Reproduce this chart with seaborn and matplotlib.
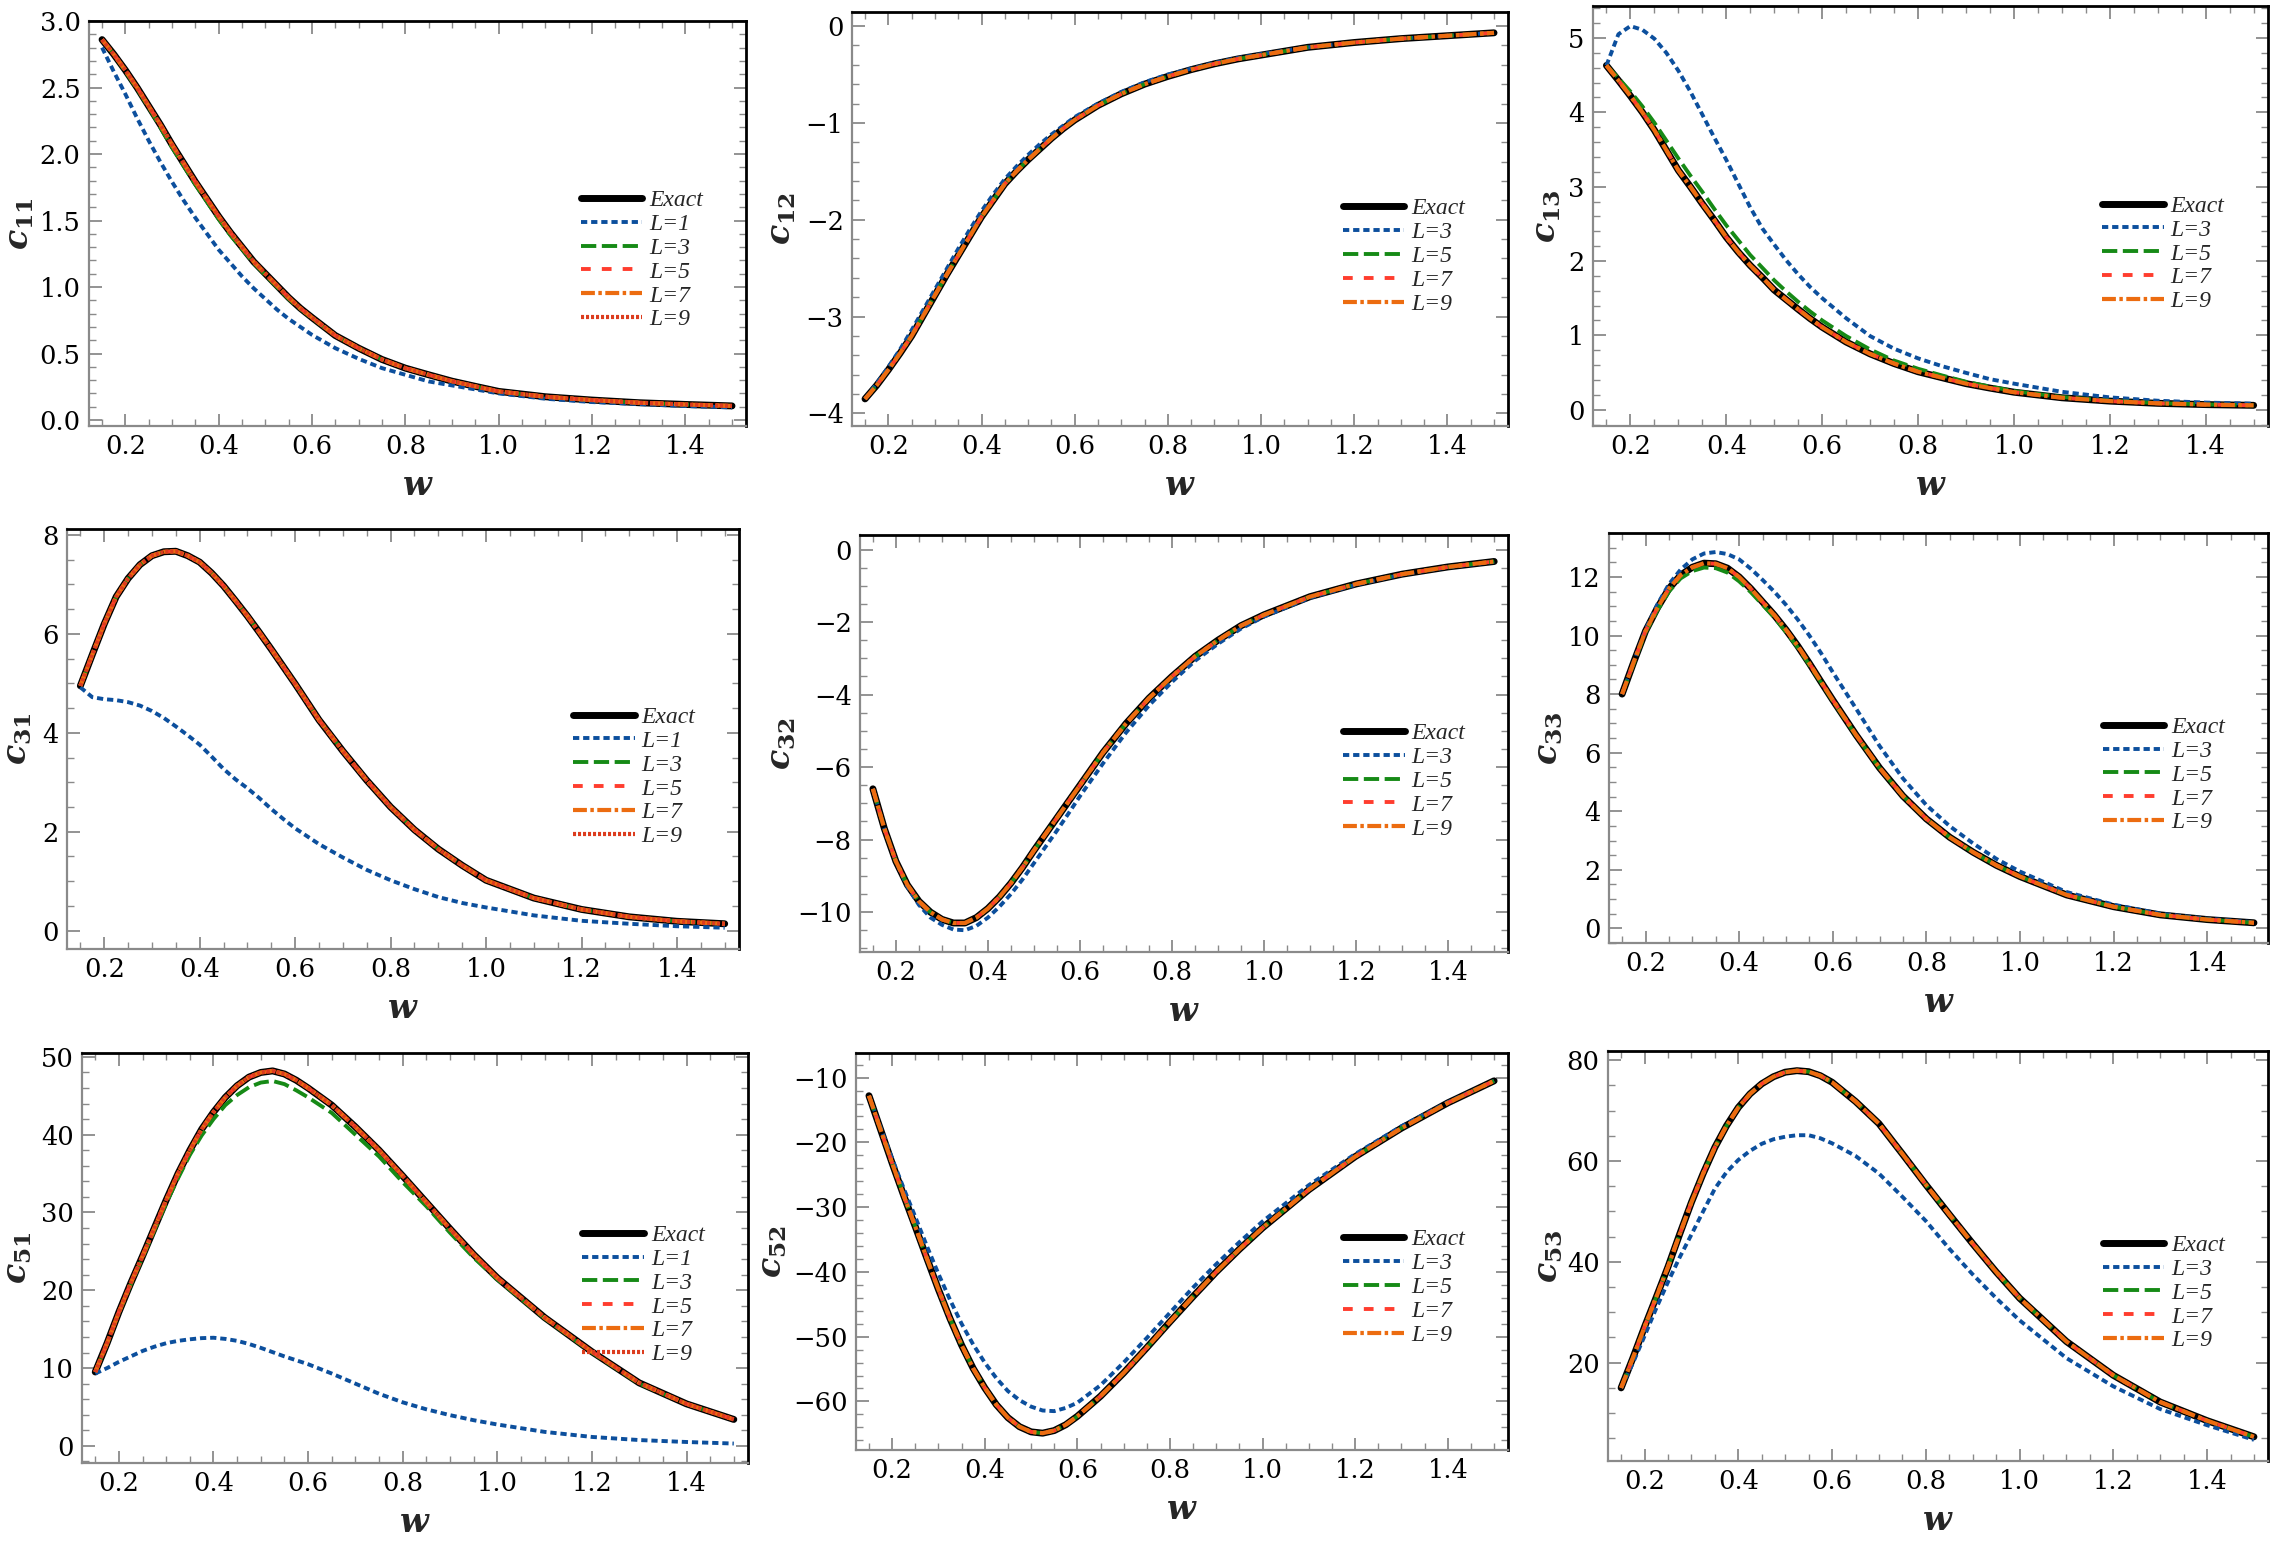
import matplotlib
matplotlib.use("Agg")
import matplotlib.pyplot as plt
import seaborn as sns
from matplotlib.ticker import MultipleLocator, FormatStrFormatter

# frequency grid shared by all panels
W = [0.15, 0.175, 0.2, 0.225, 0.25, 0.275, 0.3, 0.325, 0.35, 0.375, 0.4, 0.425, 0.45, 0.475,
     0.5, 0.525, 0.55, 0.575, 0.6, 0.65, 0.7, 0.75, 0.8, 0.85, 0.9, 0.95, 1.0,
     1.1, 1.2, 1.3, 1.4, 1.5]

# c11
c11_exact = [2.86, 2.75, 2.63, 2.50, 2.36, 2.22, 2.07, 1.93, 1.79, 1.66, 1.53, 1.41, 1.30, 1.19,
             1.10, 1.01, 0.92, 0.84, 0.77, 0.635, 0.54, 0.455, 0.39, 0.34, 0.292, 0.253, 0.215,
             0.175, 0.15, 0.13, 0.117, 0.106]
c11_L1 = [2.80, 2.62, 2.45, 2.27, 2.10, 1.94, 1.79, 1.65, 1.52, 1.40, 1.28, 1.18, 1.08, 0.99,
          0.91, 0.83, 0.76, 0.70, 0.64, 0.54, 0.46, 0.39, 0.34, 0.29, 0.26, 0.23, 0.20,
          0.16, 0.135, 0.12, 0.105, 0.095]
c11_L3 = [2.86, 2.75, 2.62, 2.49, 2.35, 2.20, 2.05, 1.91, 1.77, 1.64, 1.51, 1.39, 1.285, 1.18,
          1.09, 1.00, 0.91, 0.835, 0.765, 0.635, 0.54, 0.455, 0.39, 0.34, 0.292, 0.253, 0.215,
          0.175, 0.15, 0.13, 0.117, 0.106]

# c12
c12_exact = [-3.85, -3.71, -3.55, -3.38, -3.20, -2.99, -2.78, -2.57, -2.37, -2.17, -1.97, -1.80,
             -1.63, -1.50, -1.38, -1.27, -1.16, -1.06, -0.97, -0.82, -0.70, -0.60, -0.52, -0.45,
             -0.39, -0.34, -0.30, -0.22, -0.17, -0.13, -0.10, -0.07]
c12_L3 = [-3.85, -3.69, -3.52, -3.34, -3.14, -2.93, -2.72, -2.51, -2.30, -2.10, -1.91, -1.74,
          -1.58, -1.45, -1.33, -1.22, -1.12, -1.03, -0.94, -0.80, -0.68, -0.58, -0.50, -0.44,
          -0.38, -0.33, -0.29, -0.22, -0.17, -0.13, -0.10, -0.07]

# c13
c13_exact = [4.63, 4.43, 4.22, 4.00, 3.76, 3.49, 3.22, 3.00, 2.77, 2.55, 2.32, 2.12, 1.94, 1.78,
             1.61, 1.48, 1.35, 1.225, 1.11, 0.91, 0.75, 0.62, 0.51, 0.43, 0.35, 0.29, 0.235,
             0.16, 0.115, 0.085, 0.068, 0.058]
c13_L3 = [4.63, 5.05, 5.16, 5.11, 4.99, 4.80, 4.56, 4.28, 3.97, 3.66, 3.36, 3.04, 2.72, 2.44,
          2.22, 2.01, 1.82, 1.65, 1.50, 1.23, 0.99, 0.82, 0.69, 0.585, 0.495, 0.41, 0.35,
          0.24, 0.165, 0.12, 0.095, 0.08]
c13_L5 = [4.63, 4.46, 4.28, 4.08, 3.86, 3.62, 3.38, 3.15, 2.93, 2.70, 2.48, 2.28, 2.08, 1.91,
          1.74, 1.59, 1.45, 1.32, 1.20, 0.99, 0.81, 0.66, 0.55, 0.46, 0.375, 0.31, 0.25,
          0.17, 0.12, 0.088, 0.07, 0.058]

# c31
c31_exact = [4.95, 5.58, 6.20, 6.75, 7.12, 7.40, 7.58, 7.66, 7.67, 7.58, 7.45, 7.23, 6.97, 6.67,
             6.36, 6.03, 5.69, 5.34, 4.99, 4.26, 3.63, 3.04, 2.50, 2.04, 1.65, 1.32, 1.02,
             0.66, 0.43, 0.28, 0.19, 0.14]
c31_L1 = [4.92, 4.72, 4.68, 4.66, 4.62, 4.55, 4.44, 4.30, 4.13, 3.95, 3.76, 3.52, 3.27, 3.06,
          2.88, 2.68, 2.46, 2.26, 2.07, 1.75, 1.48, 1.23, 1.02, 0.84, 0.68, 0.56, 0.47,
          0.31, 0.20, 0.14, 0.09, 0.06]

# c32
c32_exact = [-6.6, -7.7, -8.6, -9.25, -9.7, -10.0, -10.2, -10.3, -10.3, -10.15, -9.9, -9.58,
             -9.2, -8.77, -8.3, -7.85, -7.4, -6.95, -6.5, -5.6, -4.8, -4.1, -3.5, -2.95,
             -2.5, -2.1, -1.8, -1.3, -0.95, -0.68, -0.48, -0.33]
c32_L3 = [-6.6, -7.7, -8.6, -9.3, -9.8, -10.15, -10.35, -10.48, -10.5, -10.38, -10.15, -9.85,
          -9.5, -9.1, -8.65, -8.2, -7.75, -7.28, -6.8, -5.9, -5.05, -4.3, -3.65, -3.07,
          -2.6, -2.18, -1.85, -1.33, -0.97, -0.69, -0.49, -0.34]

# c33
c33_exact = [8.0, 9.1, 10.15, 10.93, 11.6, 12.06, 12.33, 12.47, 12.45, 12.3, 12.0, 11.6, 11.15,
             10.7, 10.2, 9.65, 9.05, 8.42, 7.8, 6.6, 5.48, 4.52, 3.74, 3.11, 2.6, 2.15, 1.77,
             1.14, 0.74, 0.46, 0.30, 0.19]
c33_L3 = [8.0, 9.12, 10.2, 11.05, 11.75, 12.25, 12.6, 12.8, 12.85, 12.78, 12.6, 12.28, 11.9,
          11.5, 11.05, 10.55, 10.0, 9.4, 8.75, 7.5, 6.23, 5.12, 4.21, 3.49, 2.9, 2.37, 1.94,
          1.24, 0.81, 0.50, 0.33, 0.21]
c33_L5 = [8.0, 9.05, 10.1, 10.85, 11.5, 11.95, 12.2, 12.32, 12.3, 12.15, 11.85, 11.48, 11.05,
          10.62, 10.12, 9.6, 9.0, 8.4, 7.77, 6.58, 5.47, 4.52, 3.74, 3.11, 2.6, 2.15, 1.77,
          1.14, 0.74, 0.46, 0.30, 0.19]

# c51
c51_exact = [9.5, 13.2, 17.2, 20.9, 24.4, 28.0, 31.6, 35.0, 38.0, 40.7, 42.9, 44.8, 46.3, 47.4,
             48.0, 48.2, 47.8, 47.0, 46.0, 43.8, 41.0, 38.0, 34.7, 31.3, 27.9, 24.6, 21.6,
             16.5, 12.1, 8.1, 5.4, 3.4]
c51_L1 = [9.3, 10.0, 10.8, 11.5, 12.2, 12.75, 13.2, 13.5, 13.7, 13.85, 13.9, 13.75, 13.5, 13.1,
          12.6, 12.05, 11.5, 11.0, 10.5, 9.3, 8.0, 6.7, 5.6, 4.7, 3.95, 3.3, 2.75,
          1.8, 1.15, 0.75, 0.5, 0.3]
c51_L3 = [9.5, 13.1, 17.1, 20.7, 24.2, 27.7, 31.2, 34.4, 37.4, 39.9, 42.0, 43.8, 45.1, 46.1,
          46.7, 46.9, 46.5, 45.7, 44.8, 42.8, 40.0, 37.2, 33.9, 30.8, 27.4, 24.2, 21.4,
          16.4, 12.0, 8.0, 5.4, 3.4]

# c52
c52_exact = [-12.8, -18.0, -23.2, -28.2, -33.0, -37.9, -42.7, -47.2, -51.3, -54.9, -57.9, -60.5,
             -62.5, -63.9, -64.7, -64.9, -64.5, -63.6, -62.3, -59.2, -55.6, -51.7, -47.7, -43.8,
             -40.0, -36.5, -33.2, -27.3, -22.2, -17.8, -13.9, -10.5]
c52_L3 = [-12.8, -17.7, -22.5, -27.1, -31.5, -36.0, -40.3, -44.3, -48.0, -51.2, -54.0, -56.4,
          -58.4, -59.8, -60.8, -61.4, -61.5, -61.0, -60.2, -57.5, -54.0, -50.2, -46.3, -42.4,
          -38.8, -35.4, -32.2, -26.6, -21.8, -17.5, -13.8, -10.5]

# c53
c53_exact = [15.0, 20.9, 27.1, 33.0, 39.0, 45.5, 51.8, 57.5, 62.7, 67.0, 70.6, 73.3, 75.3, 76.7,
             77.6, 77.9, 77.7, 76.9, 75.6, 71.8, 67.4, 61.4, 55.3, 49.4, 43.6, 38.0, 32.8,
             24.2, 17.5, 12.2, 8.5, 5.3]
c53_L3 = [15.0, 19.9, 25.3, 30.8, 36.0, 40.9, 45.4, 50.0, 54.5, 57.8, 60.2, 62.0, 63.4, 64.3,
          64.8, 65.1, 65.1, 64.5, 63.5, 61.0, 57.5, 52.9, 48.1, 42.6, 37.5, 32.8, 28.4,
          20.9, 15.3, 10.8, 7.6, 4.7]

labels_odd = ["Exact", "L=1", "L=3", "L=5", "L=7", "L=9"]
labels_even = ["Exact", "L=3", "L=5", "L=7", "L=9"]

sns.set_theme(style="ticks")
plt.rcParams['font.family'] = ['DejaVu Serif']
plt.rcParams['mathtext.fontset'] = 'custom'
plt.rcParams['mathtext.it'] = 'DejaVu Serif:italic:bold'
plt.rcParams['mathtext.rm'] = 'DejaVu Serif:bold'
plt.rcParams['lines.scale_dashes'] = False

exact_style = dict(color='black', linewidth=5.0, linestyle='-')
approx_styles = [
    dict(color='#0c4f9d', linewidth=2.8, linestyle=(0, (4.5, 2.8))),
    dict(color='#168a16', linewidth=2.8, linestyle=(0, (11, 4))),
    dict(color='#ff3d2e', linewidth=2.8, linestyle=(0, (7, 8))),
    dict(color='#ec6c10', linewidth=3.0, linestyle=(0, (10, 2.5, 2.5, 2.5))),
    dict(color='#dc3c1e', linewidth=3.0, linestyle=(0, (2.2, 1.4))),
]

# (name, series, labels, ylim, major, minor, fmt, rect px: left, top, right, bottom, ylabel right edge px)
panels = [
    ("c_{11}", [c11_exact, c11_L1, c11_L3, c11_exact, c11_exact, c11_exact], labels_odd,
     (-0.045, 3.0), 0.5, 0.1, '%.1f', (89, 21, 746, 426), 36),
    ("c_{12}", [c12_exact, c12_L3, c12_exact, c12_exact, c12_exact], labels_even,
     (-4.13, 0.145), 1, 0.2, None, (852, 12, 1508, 426), 798),
    ("c_{13}", [c13_exact, c13_L3, c13_L5, c13_exact, c13_exact], labels_even,
     (-0.22, 5.43), 1, 0.2, None, (1593, 6, 2268, 426), 1563),
    ("c_{31}", [c31_exact, c31_L1, c31_exact, c31_exact, c31_exact, c31_exact], labels_odd,
     (-0.37, 8.12), 2, 0.5, None, (67, 529, 739, 949), 34),
    ("c_{32}", [c32_exact, c32_L3, c32_exact, c32_exact, c32_exact], labels_even,
     (-11.1, 0.4), 2, 0.5, None, (860, 535, 1508, 952), 798),
    ("c_{33}", [c33_exact, c33_L3, c33_L5, c33_exact, c33_exact], labels_even,
     (-0.5, 13.5), 2, 0.5, None, (1609, 533, 2268, 943), 1565),
    ("c_{51}", [c51_exact, c51_L1, c51_L3, c51_exact, c51_exact, c51_exact], labels_odd,
     (-2.2, 50.5), 10, 2, None, (82, 1053, 748, 1463), 34),
    ("c_{52}", [c52_exact, c52_L3, c52_exact, c52_exact, c52_exact], labels_even,
     (-67.5, -6.2), 10, 2, None, (856, 1053, 1508, 1450), 789),
    ("c_{53}", [c53_exact, c53_L3, c53_exact, c53_exact, c53_exact], labels_even,
     (0.5, 81.8), 20, 5, None, (1608, 1051, 2268, 1461), 1565),
]

FW, FH = 2280, 1550
fig = plt.figure(figsize=(22.8, 15.5), dpi=100)

for name, series, labels, ylim, ymaj, ymin, fmt, (l, t, r, b), labx in panels:
    ax = fig.add_axes([l / FW, 1 - b / FH, (r - l) / FW, (b - t) / FH])
    sns.lineplot(x=W, y=series[0], ax=ax, label=labels[0], **exact_style)
    for vals, lab, st in zip(series[1:], labels[1:], approx_styles):
        sns.lineplot(x=W, y=vals, ax=ax, label=lab, **st)

    ax.set_xlim(0.122, 1.53)
    ax.set_ylim(*ylim)
    ax.xaxis.set_major_locator(MultipleLocator(0.2))
    ax.xaxis.set_minor_locator(MultipleLocator(0.05))
    ax.xaxis.set_major_formatter(FormatStrFormatter('%.1f'))
    ax.yaxis.set_major_locator(MultipleLocator(ymaj))
    ax.yaxis.set_minor_locator(MultipleLocator(ymin))
    if fmt:
        ax.yaxis.set_major_formatter(FormatStrFormatter(fmt))

    ax.tick_params(which='both', direction='in', top=True, right=True,
                   color='#8a8a8a', labelsize=18.5, labelcolor='black', pad=6)
    ax.tick_params(which='major', length=9, width=1.3)
    ax.tick_params(which='minor', length=5, width=1.0)
    for side in ['left', 'bottom']:
        ax.spines[side].set_color('#8a8a8a')
        ax.spines[side].set_linewidth(1.6)
    for side in ['top', 'right']:
        ax.spines[side].set_color('black')
        ax.spines[side].set_linewidth(2.0)

    ax.set_xlabel('$w$', fontsize=24, labelpad=8)
    ax.set_ylabel('$' + name + '$', fontsize=24)
    ax.yaxis.set_label_coords((labx - l) / (r - l), 0.5)

    ax.legend(loc='center right', bbox_to_anchor=(0.96, 0.41), frameon=False,
              prop={'family': 'Liberation Serif', 'style': 'italic', 'size': 17},
              handlelength=2.6, labelspacing=0.1, handletextpad=0.3, borderpad=0.2)

fig.savefig('out.png', dpi=100)
